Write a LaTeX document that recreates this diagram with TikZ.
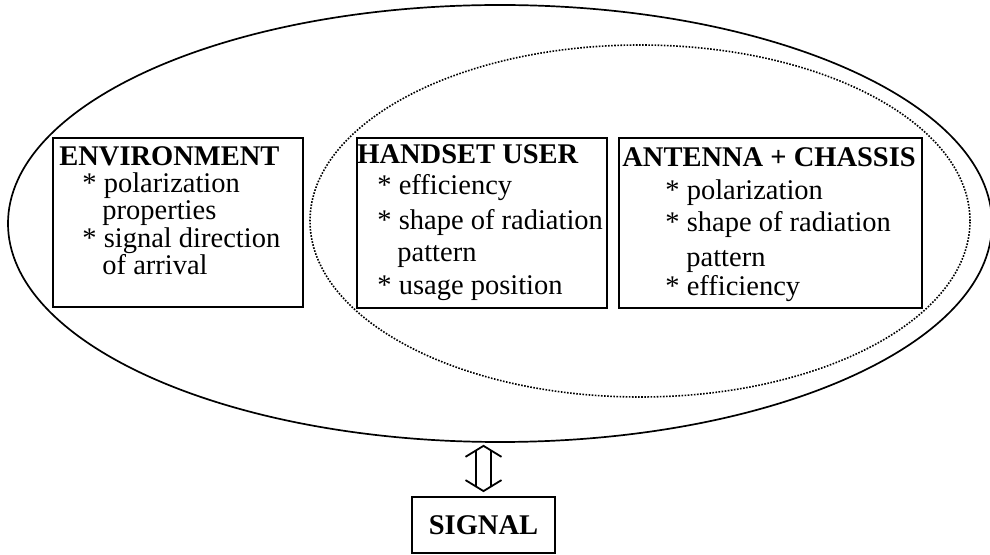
\documentclass[tikz,border=0pt]{standalone}
\usepackage{fontspec}
\setmainfont{Liberation Serif}
\usetikzlibrary{shapes.geometric,calc}
\begin{document}
\begin{tikzpicture}[x=0.5pt,y=-0.5pt,
  frame/.style={draw, line width=0.9pt, inner sep=0, anchor=north west},
  oval/.style={draw, ellipse, inner sep=0, line width=0.85pt},
  dots/.style={draw, ellipse, inner sep=0, line width=0.8pt, dash pattern=on 0.8pt off 0.75pt},
  txt/.style={anchor=base west, inner sep=0, font=\fontsize{14.25pt}{16pt}\selectfont},
  head/.style={anchor=base west, inner sep=0, font=\fontsize{14.25pt}{16pt}\selectfont\bfseries},
  dbl/.style={line width=0.9pt}]
\useasboundingbox (0,0) rectangle (990,555);
% ellipses
\node[oval, minimum width=492pt, minimum height=218.5pt] (outer) at (500,223.5) {};
\node[dots, minimum width=330pt, minimum height=176pt] (inner) at (640,221) {};
% boxes
\node[frame, minimum width=125pt, minimum height=84.5pt] (env) at (52,137) {};
\node[frame, minimum width=125pt, minimum height=85pt] (user) at (356,137) {};
\node[frame, minimum width=151.5pt, minimum height=85pt] (ant) at (618,137) {};
\node[draw, line width=0.9pt, inner sep=0, minimum width=71.5pt, minimum height=28pt,
      font=\fontsize{14.25pt}{16pt}\selectfont\bfseries] (sig) at (483.5,525) {SIGNAL};
% environment text
\node[head] (envh) at (59,166) {ENVIRONMENT};
\node[txt] (env1) at (82,193) {* polarization};
\node[txt] (env2) at (102,220) {properties};
\node[txt] (env3) at (82,248) {* signal direction};
\node[txt] (env4) at (102,275) {of arrival};
% handset user text
\node[head] (userh) at (357,164) {HANDSET USER};
\node[txt] (user1) at (377,195) {* efficiency};
\node[txt] (user2) at (377,230) {* shape of radiation};
\node[txt] (user3) at (397,262) {pattern};
\node[txt] (user4) at (377,295) {* usage position};
% antenna text
\node[head] (anth) at (622,167) {ANTENNA + CHASSIS};
\node[txt] (ant1) at (665,200) {* polarization};
\node[txt] (ant2) at (665,232) {* shape of radiation};
\node[txt] (ant3) at (686,267) {pattern};
\node[txt] (ant4) at (665,296) {* efficiency};
% double arrow
\coordinate (atop0) at (sig.north |- outer.south);
\coordinate (atop) at ($(atop0)+(0,3)$);
\coordinate (abot) at ($(sig.north)+(0,-5)$);
\draw[dbl] ($(atop)+(-18,11)$) -- (atop) -- ($(atop)+(18,11)$);
\draw[dbl] ($(abot)+(-18,-11)$) -- (abot) -- ($(abot)+(18,-11)$);
\draw[dbl] ($(atop)+(-7.5,4.5)$) -- ($(abot)+(-7.5,-4.5)$);
\draw[dbl] ($(atop)+(7.5,4.5)$) -- ($(abot)+(7.5,-4.5)$);
\end{tikzpicture}
\end{document}
